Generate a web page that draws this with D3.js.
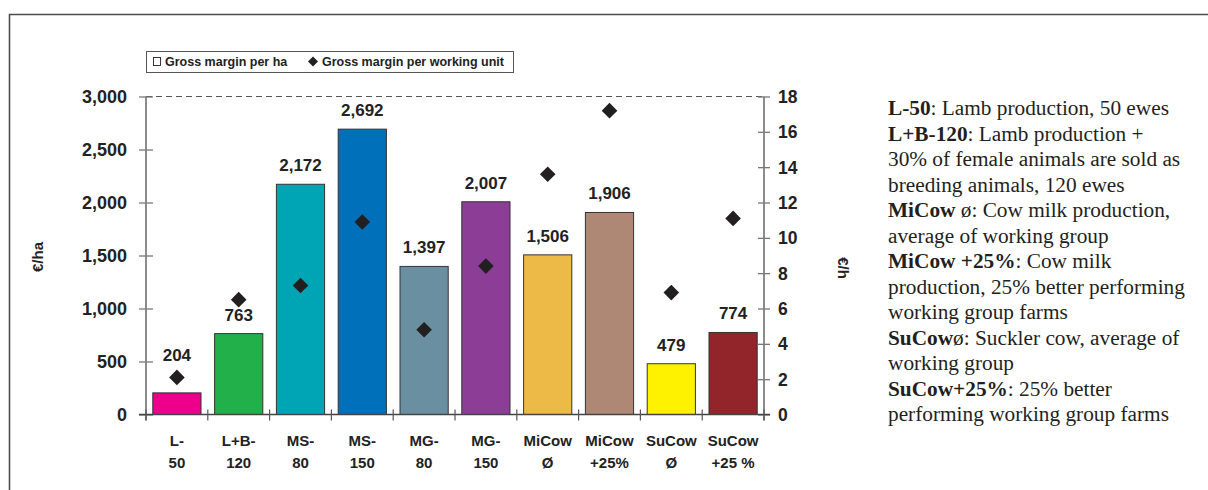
<!DOCTYPE html>
<html>
<head>
<meta charset="utf-8">
<script src="https://cdn.jsdelivr.net/npm/d3@7"></script>
<style>
  html, body { margin: 0; padding: 0; background: #fff; }
  svg { display: block; }
</style>
</head>
<body>
<svg id="chart" width="1208" height="490"></svg>
<script>
// ---- data ----
const categories = ["L-50", "L+B-120", "MS-80", "MS-150", "MG-80", "MG-150", "MiCow Ø", "MiCow +25%", "SuCow Ø", "SuCow +25 %"];
const categoryLines = [["L-", "50"], ["L+B-", "120"], ["MS-", "80"], ["MS-", "150"], ["MG-", "80"], ["MG-", "150"], ["MiCow", "Ø"], ["MiCow", "+25%"], ["SuCow", "Ø"], ["SuCow", "+25 %"]];
const marginPerHa = [204, 763, 2172, 2692, 1397, 2007, 1506, 1906, 479, 774];
const marginPerWorkingUnit = [2.1, 6.5, 7.3, 10.9, 4.8, 8.4, 13.6, 17.2, 6.9, 11.1];
const barColors = ["#EC008C", "#22B04B", "#00A5B5", "#0070BA", "#6A8FA0", "#8C3D96", "#EDB947", "#AE8875", "#FFF200", "#92252A"];
const leftTicks = [0, 500, 1000, 1500, 2000, 2500, 3000];
const rightTicks = [0, 2, 4, 6, 8, 10, 12, 14, 16, 18];
const legendLabels = ["Gross margin per ha", "Gross margin per working unit"];
const leftAxisTitle = "€/ha";
const rightAxisTitle = "€/h";
const notes = [
  [["L-50", true], [": Lamb production, 50 ewes", false]],
  [["L+B-120", true], [": Lamb production +", false]],
  [["30% of female animals are sold as", false]],
  [["breeding animals, 120 ewes", false]],
  [["MiCow ", true], ["ø: Cow milk production,", false]],
  [["average of working group", false]],
  [["MiCow +25%", true], [": Cow milk", false]],
  [["production, 25% better performing", false]],
  [["working group farms", false]],
  [["SuCow", true], ["ø: Suckler cow, average of", false]],
  [["working group", false]],
  [["SuCow+25%", true], [": 25% better", false]],
  [["performing working group farms", false]]
];

// ---- layout ----
const svg = d3.select("#chart");
const pL = 146, pR = 764, pT = 96.5, pB = 414.5;
const sans = "'Liberation Sans', Arial, sans-serif";
const serif = "'Liberation Serif', 'Times New Roman', serif";

const x = d3.scaleBand().domain(categories).range([pL, pR]).paddingInner(0.22).paddingOuter(0.11);
const y = d3.scaleLinear().domain([0, 3000]).range([pB, pT]);
const y2 = d3.scaleLinear().domain([0, 18]).range([pB, pT]);

// frame
svg.append("path")
  .attr("d", `M9.5,490 L9.5,14.5 L1208,14.5`)
  .attr("fill", "none").attr("stroke", "#4d4d4d").attr("stroke-width", 1.6);

// dashed top gridline
svg.append("line")
  .attr("x1", pL).attr("x2", pR).attr("y1", y(3000)).attr("y2", y(3000))
  .attr("stroke", "#555").attr("stroke-width", 1).attr("stroke-dasharray", "6,4");

// bars
svg.append("g").selectAll("rect").data(marginPerHa).join("rect")
  .attr("x", (d, i) => x(categories[i]))
  .attr("y", d => y(d))
  .attr("width", x.bandwidth())
  .attr("height", d => y(0) - y(d))
  .attr("fill", (d, i) => barColors[i])
  .attr("stroke", "#333").attr("stroke-width", 1);

// left axis
const leftAxis = d3.axisLeft(y).tickValues(leftTicks).tickSize(0).tickFormat(d3.format(","));
const gL = svg.append("g").attr("transform", `translate(${pL},0)`).call(leftAxis);
gL.select(".domain").remove();
gL.selectAll(".tick text").attr("x", -19).attr("dy", "0.35em")
  .style("font-family", sans).style("font-weight", "bold").style("font-size", "18px").attr("fill", "#222");
gL.selectAll(".tick").append("line").attr("x1", -7).attr("x2", 7).attr("stroke", "#777").attr("stroke-width", 1.3);
svg.append("line").attr("x1", pL).attr("x2", pL).attr("y1", pT).attr("y2", pB + 6)
  .attr("stroke", "#808080").attr("stroke-width", 1.8);

// right axis
const rightAxis = d3.axisRight(y2).tickValues(rightTicks).tickSize(0);
const gR = svg.append("g").attr("transform", `translate(${pR},0)`).call(rightAxis);
gR.select(".domain").remove();
gR.selectAll(".tick text").attr("x", 14).attr("dy", "0.35em")
  .style("font-family", sans).style("font-weight", "bold").style("font-size", "17.5px").attr("fill", "#222");
gR.selectAll(".tick").append("line").attr("x1", -6).attr("x2", 6).attr("stroke", "#777").attr("stroke-width", 1.3);
svg.append("line").attr("x1", pR).attr("x2", pR).attr("y1", pT).attr("y2", pB + 6)
  .attr("stroke", "#808080").attr("stroke-width", 1.8);

// x axis
svg.append("line").attr("x1", pL - 7).attr("x2", pR + 6).attr("y1", pB).attr("y2", pB)
  .attr("stroke", "#444").attr("stroke-width", 1.3);
const boundaries = categories.map(c => x(c) - x.step() * x.paddingInner() / 2).concat([pR]);
boundaries[0] = pL;
svg.append("g").selectAll("line").data(boundaries).join("line")
  .attr("x1", d => d).attr("x2", d => d).attr("y1", pB - 5).attr("y2", pB + 6)
  .attr("stroke", "#555").attr("stroke-width", 1.2);

const xl = svg.append("g").selectAll("text").data(categoryLines).join("text")
  .attr("x", (d, i) => x(categories[i]) + x.bandwidth() / 2)
  .attr("y", 446)
  .attr("text-anchor", "middle")
  .style("font-family", sans).style("font-weight", "bold").style("font-size", "15px").attr("fill", "#222");
xl.each(function(d) {
  const t = d3.select(this);
  d.forEach((line, k) => {
    t.append("tspan").attr("x", t.attr("x")).attr("dy", k === 0 ? 0 : 22).text(line);
  });
});

// diamonds
const dh = 7.8;
svg.append("g").selectAll("path").data(marginPerWorkingUnit).join("path")
  .attr("transform", (d, i) => `translate(${x(categories[i]) + x.bandwidth() / 2},${y2(d)})`)
  .attr("d", `M0,${-dh} L${dh},0 L0,${dh} L${-dh},0 Z`)
  .attr("fill", "#231f20");

// value labels
svg.append("g").selectAll("text").data(marginPerHa).join("text")
  .attr("x", (d, i) => x(categories[i]) + x.bandwidth() / 2)
  .attr("y", (d, i) => {
    const barTop = y(d), dy = y2(marginPerWorkingUnit[i]);
    let base = barTop - 13;
    if (dy < barTop && dy > barTop - 30) base = dy - 16;
    return base;
  })
  .attr("text-anchor", "middle")
  .style("font-family", sans).style("font-weight", "bold").style("font-size", "17px").attr("fill", "#222")
  .text(d => d3.format(",")(d));

// axis titles
svg.append("text").attr("transform", `translate(43,257) rotate(-90)`)
  .attr("text-anchor", "middle")
  .style("font-family", sans).style("font-weight", "bold").style("font-size", "15px").attr("fill", "#222")
  .text(leftAxisTitle);
svg.append("text").attr("transform", `translate(838,268) rotate(90)`)
  .attr("text-anchor", "middle")
  .style("font-family", sans).style("font-weight", "bold").style("font-size", "15px").attr("fill", "#222")
  .text(rightAxisTitle);

// legend
const lg = svg.append("g");
lg.append("rect").attr("x", 146.5).attr("y", 51.5).attr("width", 367).attr("height", 21)
  .attr("fill", "#fff").attr("stroke", "#555").attr("stroke-width", 1);
lg.append("rect").attr("x", 153.5).attr("y", 57.5).attr("width", 7).attr("height", 8)
  .attr("fill", "#fff").attr("stroke", "#222").attr("stroke-width", 0.9);
lg.append("text").attr("x", 165).attr("y", 66)
  .style("font-family", sans).style("font-weight", "bold").style("font-size", "12.5px").attr("fill", "#222")
  .text(legendLabels[0]);
lg.append("path").attr("transform", "translate(313,61.5)")
  .attr("d", "M0,-5 L5,0 L0,5 L-5,0 Z").attr("fill", "#231f20");
lg.append("text").attr("x", 322).attr("y", 66)
  .style("font-family", sans).style("font-weight", "bold").style("font-size", "12.5px").attr("fill", "#222")
  .text(legendLabels[1]);

// notes
const nt = svg.append("text")
  .style("font-family", serif).style("font-size", "21.3px").attr("fill", "#231f20");
notes.forEach((line, k) => {
  line.forEach(([txt, bold], j) => {
    const ts = nt.append("tspan").text(txt);
    if (j === 0) ts.attr("x", 888).attr("y", 115 + k * 25.5);
    if (bold) ts.style("font-weight", "bold");
  });
});
</script>
</body>
</html>
